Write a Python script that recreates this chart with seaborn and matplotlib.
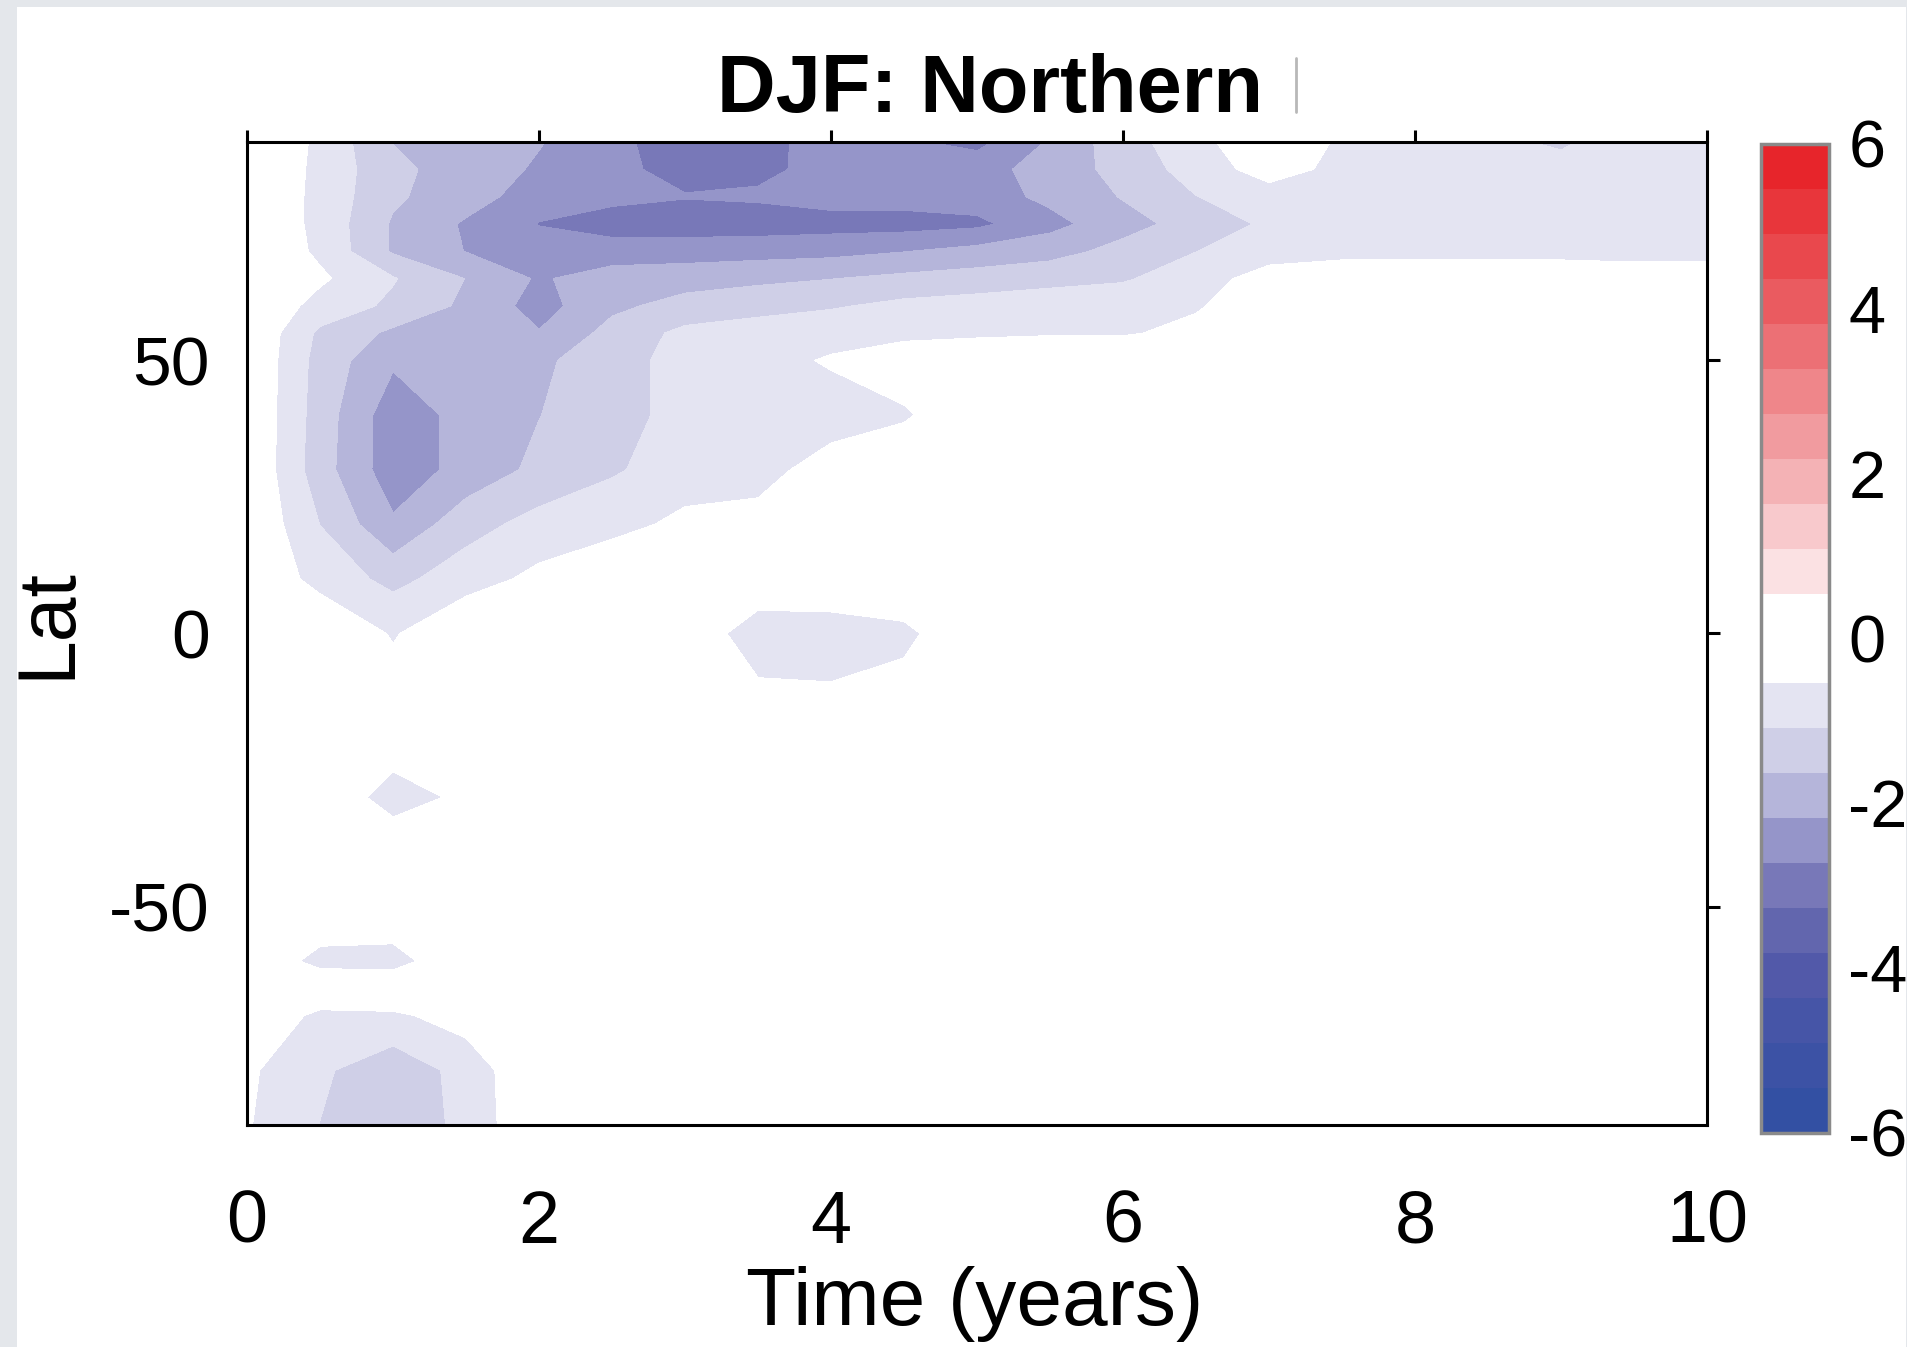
import numpy as np
import matplotlib
matplotlib.use("Agg")
import matplotlib.pyplot as plt
from matplotlib.colors import ListedColormap, BoundaryNorm
from matplotlib.patches import Rectangle
from matplotlib.lines import Line2D
import seaborn as sns

# time axis (years) and latitude nodes of the gridded field
time_years = [0, 0.5, 1, 1.5, 2, 2.5, 3, 3.5, 4, 4.5, 5, 5.5, 6, 6.5, 7, 7.5, 8, 8.5, 9, 9.5, 10]
lat_nodes = [-90, -80, -70, -65, -60, -50, -40, -30, -20, -10, 0, 10, 20, 30, 40, 50, 55, 60, 65, 70, 75, 80, 85, 90]

# anomaly values, one row per latitude node
lat_m90 = [-0.5, -1.1, -1.45, -0.95, 0, 0, 0, 0, 0, 0, 0, 0, 0, 0, 0, 0, 0, 0, 0, 0, 0]
lat_m80 = [-0.45, -1.0, -1.45, -0.9, 0, 0, 0, 0, 0, 0, 0, 0, 0, 0, 0, 0, 0, 0, 0, 0, 0]
lat_m70 = [0, -0.7, -0.65, -0.3, 0, 0, 0, 0, 0, 0, 0, 0, 0, 0, 0, 0, 0, 0, 0, 0, 0]
lat_m65 = [0, 0, 0, 0, 0, 0, 0, 0, 0, 0, 0, 0, 0, 0, 0, 0, 0, 0, 0, 0, 0]
lat_m60 = [0, -0.75, -0.8, 0, 0, 0, 0, 0, 0, 0, 0, 0, 0, 0, 0, 0, 0, 0, 0, 0, 0]
lat_m50 = [0, 0, 0, 0, 0, 0, 0, 0, 0, 0, 0, 0, 0, 0, 0, 0, 0, 0, 0, 0, 0]
lat_m40 = [0, 0, 0, 0, 0, 0, 0, 0, 0, 0, 0, 0, 0, 0, 0, 0, 0, 0, 0, 0, 0]
lat_m30 = [0, 0, -0.85, -0.4, 0, 0, 0, 0, 0, 0, 0, 0, 0, 0, 0, 0, 0, 0, 0, 0, 0]
lat_m20 = [0, 0, -0.2, 0, 0, 0, 0, 0, 0, 0, 0, 0, 0, 0, 0, 0, 0, 0, 0, 0, 0]
lat_m10 = [0, 0, -0.3, 0, 0, 0, 0, -0.45, -0.5, -0.35, 0, 0, 0, 0, 0, 0, 0, 0, 0, 0, 0]
lat_0 = [0, 0, -0.6, 0, 0, 0, 0, -0.95, -0.9, -0.7, 0, 0, 0, 0, 0, 0, 0, 0, 0, 0, 0]
lat_10 = [0, -0.75, -1.25, -0.8, -0.4, 0, 0, 0, 0, 0, 0, 0, 0, 0, 0, 0, 0, 0, 0, 0, 0]
lat_20 = [0, -1.1, -2.1, -1.3, -0.9, -0.75, -0.4, -0.4, -0.3, 0, 0, 0, 0, 0, 0, 0, 0, 0, 0, 0, 0]
lat_30 = [0, -1.4, -2.5, -2.0, -1.5, -1.15, -0.85, -0.7, -0.35, -0.2, 0, 0, 0, 0, 0, 0, 0, 0, 0, 0, 0]
lat_40 = [0, -1.35, -2.5, -2.0, -1.65, -1.25, -0.95, -0.85, -0.75, -0.6, -0.2, 0, 0, 0, 0, 0, 0, 0, 0, 0, 0]
lat_50 = [0, -1.3, -2.1, -2.0, -1.75, -1.3, -0.9, -0.7, -0.5, -0.3, -0.2, 0, 0, 0, 0, 0, 0, 0, 0, 0, 0]
lat_55 = [0, -1.2, -1.75, -1.8, -2.15, -1.45, -0.95, -0.8, -0.7, -0.65, -0.62, -0.6, -0.6, -0.4, 0, 0, 0, 0, 0, 0, 0]
lat_60 = [0, -0.75, -1.2, -1.75, -2.4, -1.75, -1.45, -1.3, -1.15, -0.95, -0.85, -0.8, -0.75, -0.6, -0.2, 0, 0, 0, 0, 0, 0]
lat_65 = [0, -0.45, -1.05, -1.65, -2.25, -1.9, -1.85, -1.75, -1.65, -1.5, -1.4, -1.25, -1.15, -0.8, -0.3, 0, 0, 0, 0, 0, 0]
lat_70 = [0, -0.65, -1.7, -2.2, -2.45, -2.5, -2.45, -2.4, -2.35, -2.2, -2.0, -1.85, -1.45, -1.1, -0.8, -0.8, -0.8, -0.8, -0.8, -0.9, -0.9]
lat_75 = [0, -0.7, -1.7, -2.25, -2.75, -2.95, -3.0, -3.0, -2.95, -2.95, -2.85, -2.35, -1.85, -1.4, -1.0, -0.85, -0.85, -0.85, -0.85, -0.85, -0.85]
lat_80 = [0, -0.7, -1.55, -1.95, -2.45, -2.6, -2.7, -2.65, -2.5, -2.5, -2.45, -2.05, -1.6, -1.1, -0.8, -0.75, -0.8, -0.8, -0.8, -0.8, -0.8]
lat_85 = [0, -0.68, -1.5, -1.9, -2.25, -2.6, -2.9, -2.85, -2.55, -2.6, -2.4, -1.95, -1.45, -0.85, -0.3, -0.7, -0.8, -0.9, -0.95, -0.85, -0.8]
lat_90 = [0, -0.65, -1.65, -2.0, -2.15, -2.55, -3.1, -2.9, -2.5, -2.65, -2.88, -2.12, -1.31, -0.75, 0, -0.65, -0.8, -1.0, -1.15, -0.85, -0.8]

# colour bands from -6 to 6
band_colors = ["#3350a3", "#3c52a5", "#4655a7", "#5259a9", "#6266ae", "#7878b8",
               "#9595c9", "#b5b5da", "#cfcfe7", "#e4e4f2", "#ffffff",
               "#ffffff", "#fbe1e3", "#f8c9cc", "#f4b2b5", "#f19b9f", "#ef868a",
               "#ec7075", "#ea5b60", "#e9484d", "#e8363b", "#e7252b"]
cbar_ticks = [-6, -4, -2, 0, 2, 4, 6]
x_ticks = [0, 2, 4, 6, 8, 10]
y_ticks = [-50, 0, 50]

sns.set_theme(style="white")
plt.rcParams["font.family"] = ["Liberation Sans", "DejaVu Sans"]
plt.rcParams["axes.unicode_minus"] = False

field = np.array([lat_m90, lat_m80, lat_m70, lat_m65, lat_m60, lat_m50, lat_m40, lat_m30,
                  lat_m20, lat_m10, lat_0, lat_10, lat_20, lat_30, lat_40, lat_50, lat_55,
                  lat_60, lat_65, lat_70, lat_75, lat_80, lat_85, lat_90])

levels = np.linspace(-6, 6, len(band_colors) + 1)
cmap = ListedColormap(band_colors)
norm = BoundaryNorm(levels, cmap.N)

fig = plt.figure(figsize=(19.08, 13.47), dpi=100)
fig.patch.set_facecolor("#e4e7eb")
fig.add_artist(Rectangle((17 / 1908, 0), 1 - 19 / 1908, 1 - 7 / 1347,
                         transform=fig.transFigure, facecolor="white",
                         edgecolor="none", zorder=-10))

ax = fig.add_axes([0.1295, 0.1648, 0.7652, 0.7298])
cax = fig.add_axes([0.9230, 0.1589, 0.0356, 0.7342])

cs = ax.contourf(time_years, lat_nodes, field, levels=levels, cmap=cmap, norm=norm)

ax.set_xlim(0, 10)
ax.set_ylim(-90, 90)
ax.set_xticks(x_ticks)
ax.set_yticks(y_ticks)
ax.tick_params(axis="both", direction="out", length=9, width=2.2, color="black",
               top=True, right=True, labelcolor="black")
ax.tick_params(axis="x", labelsize=53, pad=37)
ax.tick_params(axis="y", labelsize=50, pad=18)
for s in ax.spines.values():
    s.set_visible(True)
    s.set_color("black")
    s.set_linewidth(2.2)

ax.text(0.509, 1.0305, "DJF: Northern", transform=ax.transAxes, ha="center",
        va="baseline", fontsize=58.5, fontweight="bold", color="black")
fig.add_artist(Line2D([0.679, 0.679], [0.917, 0.957], transform=fig.transFigure,
                      color="#b8b8b8", lw=2))

ax.set_xlabel("Time (years)", fontsize=59, color="black")
ax.xaxis.set_label_coords(0.4986, -0.143)
ax.set_ylabel("Lat", fontsize=58, color="black")
ax.yaxis.set_label_coords(-0.110, 0.511)

cb = fig.colorbar(cs, cax=cax, ticks=cbar_ticks)
cb.minorticks_off()
cb.outline.set_edgecolor("#8a8a8a")
cb.outline.set_linewidth(2.5)
cax.tick_params(direction="in", length=8, width=1.5, color="#555555",
                labelsize=48, pad=14, labelcolor="black")

fig.savefig("out.png", dpi=100, facecolor=fig.get_facecolor())
